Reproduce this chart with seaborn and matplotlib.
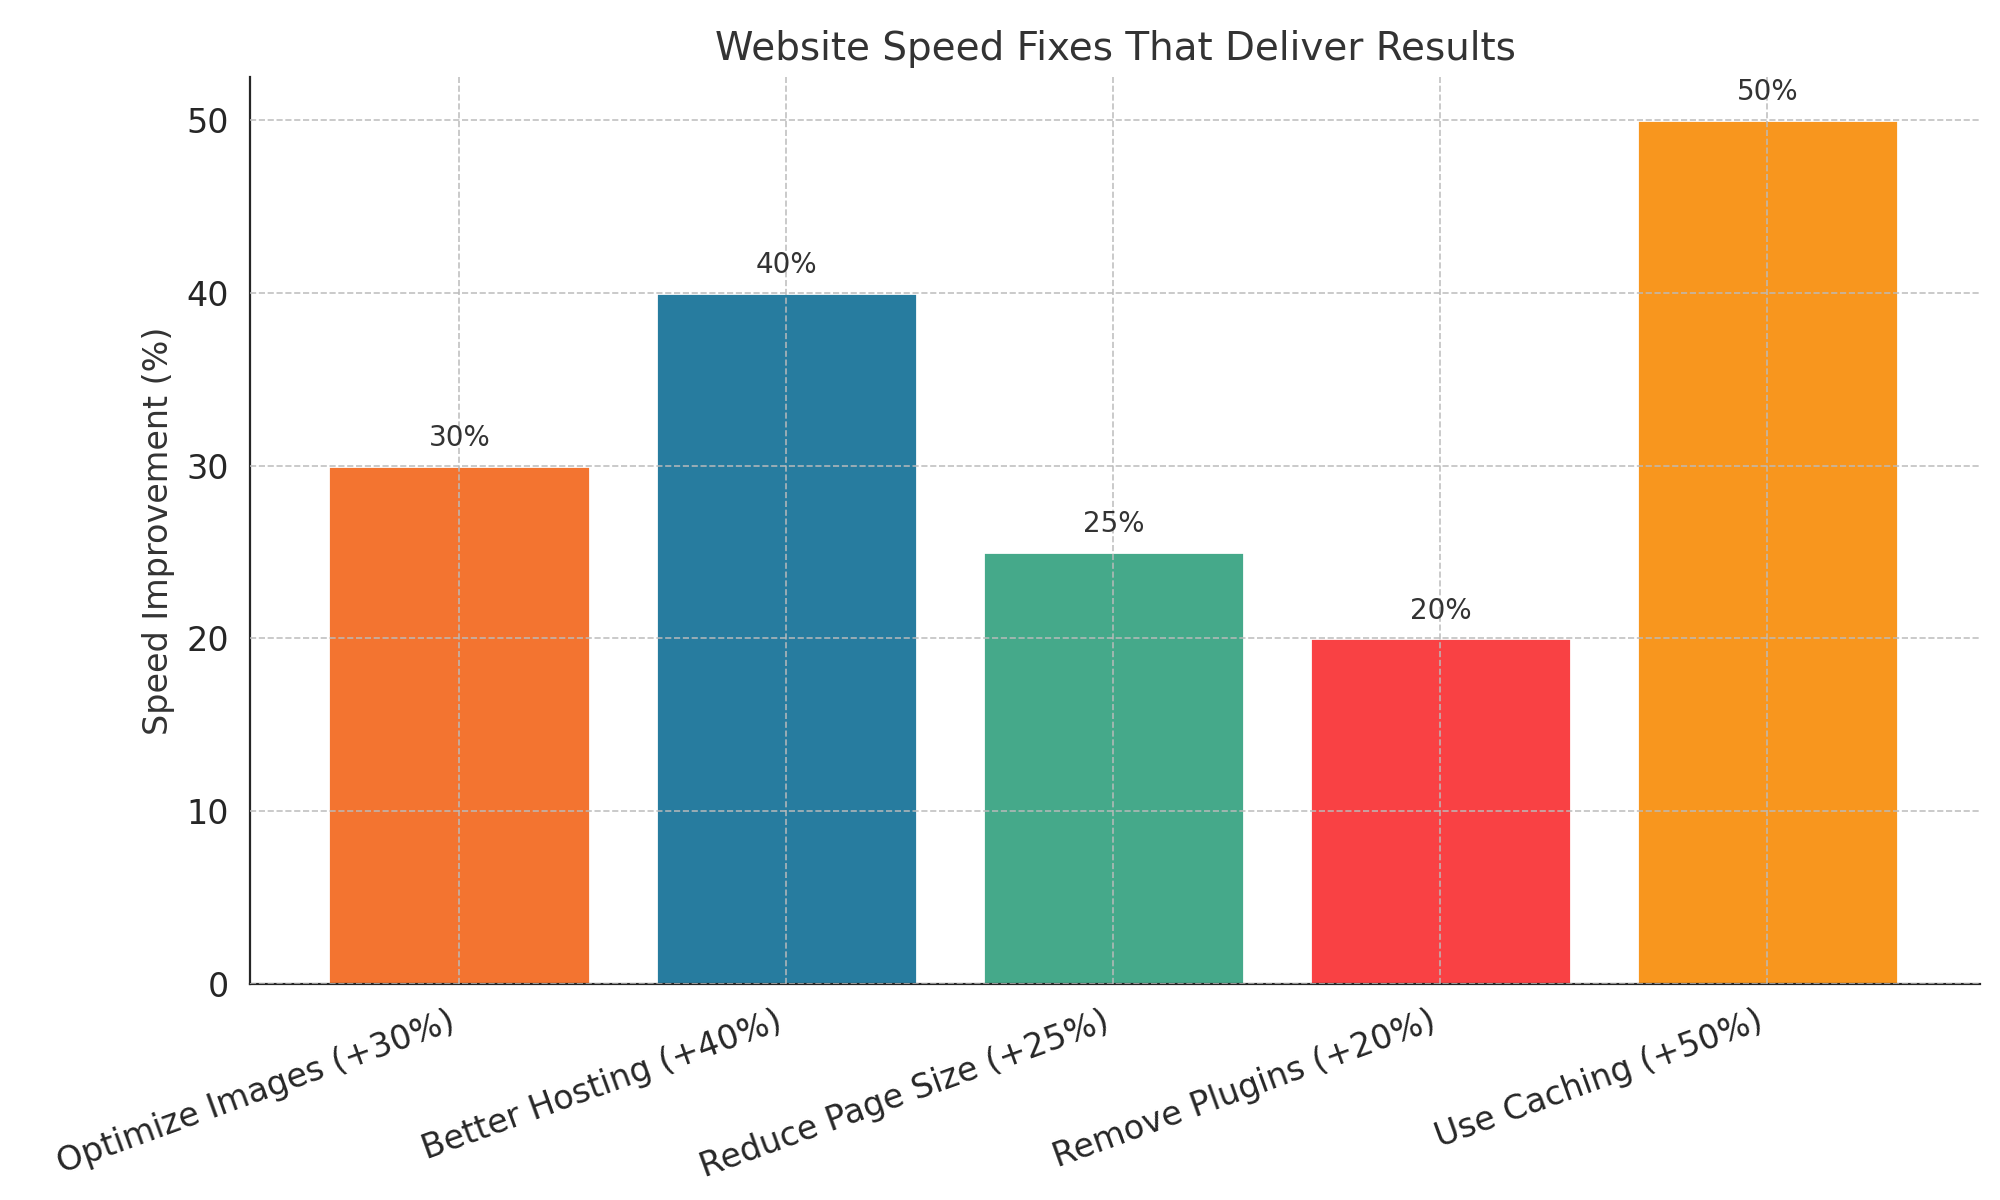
import matplotlib
matplotlib.use("Agg")
import matplotlib.pyplot as plt
import seaborn as sns
import pandas as pd

# data
fixes = ["Optimize Images (+30%)", "Better Hosting (+40%)", "Reduce Page Size (+25%)",
         "Remove Plugins (+20%)", "Use Caching (+50%)"]
improvement = [30, 40, 25, 20, 50]
colors = ["#F37430", "#277C9F", "#45A98A", "#F94144", "#F8961E"]

df = pd.DataFrame({"fix": fixes, "value": improvement})

sns.set_style("white")
plt.rcParams['font.family'] = ['DejaVu Sans']

fig, ax = plt.subplots(figsize=(10, 6), dpi=200)
sns.barplot(data=df, x="fix", y="value", hue="fix", palette=colors,
            legend=False, width=0.8, saturation=1, ax=ax)

for i, v in enumerate(improvement):
    ax.text(i, v + 0.8, f"{v}%", ha="center", va="bottom", fontsize=10, color="#333333")

ax.set_axisbelow(False)
ax.grid(True, linestyle="--", color="#bbbbbb", linewidth=0.6, alpha=0.9)
ax.set_title("Website Speed Fixes That Deliver Results", fontsize=14, color="#333333")
ax.set_ylabel("Speed Improvement (%)", fontsize=12, color="#333333")
ax.set_xlabel("")
ax.set_ylim(0, 52.5)
ax.set_xlim(-0.64, 4.65)
ax.tick_params(axis="both", labelsize=12, length=4, color="#333333")
plt.setp(ax.get_xticklabels(), rotation=20, ha="right")
sns.despine(ax=ax)

fig.subplots_adjust(left=0.125, right=0.99, top=0.936, bottom=0.18)
fig.savefig("out.png")
